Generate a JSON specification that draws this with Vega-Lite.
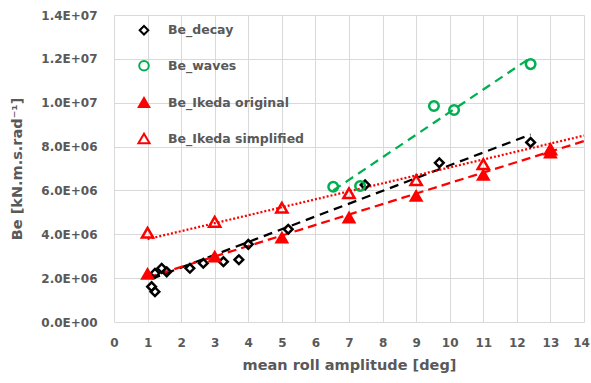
{
  "$schema": "https://vega.github.io/schema/vega-lite/v6.json",
  "width": 470,
  "height": 307,
  "autosize": "none",
  "padding": {"left": 114, "top": 15, "right": 7, "bottom": 61},
  "background": "white",
  "config": {
    "view": {"stroke": null},
    "font": "DejaVu Sans",
    "axis": {
      "labelFont": "DejaVu Sans",
      "labelFontSize": 12,
      "labelFontWeight": "bold",
      "labelColor": "#595959",
      "titleFont": "DejaVu Sans",
      "titleFontSize": 14.5,
      "titleFontWeight": "bold",
      "titleColor": "#595959",
      "gridColor": "#D9D9D9",
      "gridWidth": 1,
      "ticks": false,
      "domain": false
    }
  },
  "datasets": {
    "points": [
      {"series": "Be_decay", "x": 1.12, "y": 1610000},
      {"series": "Be_decay", "x": 1.22, "y": 1380000},
      {"series": "Be_decay", "x": 1.22, "y": 2220000},
      {"series": "Be_decay", "x": 1.42, "y": 2450000},
      {"series": "Be_decay", "x": 1.57, "y": 2290000},
      {"series": "Be_decay", "x": 2.26, "y": 2450000},
      {"series": "Be_decay", "x": 2.66, "y": 2680000},
      {"series": "Be_decay", "x": 3.26, "y": 2750000},
      {"series": "Be_decay", "x": 3.72, "y": 2840000},
      {"series": "Be_decay", "x": 4.0, "y": 3540000},
      {"series": "Be_decay", "x": 5.19, "y": 4230000},
      {"series": "Be_decay", "x": 7.48, "y": 6250000},
      {"series": "Be_decay", "x": 9.69, "y": 7260000},
      {"series": "Be_decay", "x": 12.41, "y": 8190000},
      {"series": "Be_waves", "x": 6.53, "y": 6170000},
      {"series": "Be_waves", "x": 7.33, "y": 6200000},
      {"series": "Be_waves", "x": 9.53, "y": 9850000},
      {"series": "Be_waves", "x": 10.13, "y": 9670000},
      {"series": "Be_waves", "x": 12.41, "y": 11760000},
      {"series": "Be_Ikeda original", "x": 1, "y": 2190000},
      {"series": "Be_Ikeda original", "x": 3, "y": 2980000},
      {"series": "Be_Ikeda original", "x": 5, "y": 3840000},
      {"series": "Be_Ikeda original", "x": 7, "y": 4760000},
      {"series": "Be_Ikeda original", "x": 9, "y": 5750000},
      {"series": "Be_Ikeda original", "x": 11, "y": 6700000},
      {"series": "Be_Ikeda original", "x": 13, "y": 7720000},
      {"series": "Be_Ikeda simplified", "x": 1, "y": 4070000},
      {"series": "Be_Ikeda simplified", "x": 3, "y": 4570000},
      {"series": "Be_Ikeda simplified", "x": 5, "y": 5210000},
      {"series": "Be_Ikeda simplified", "x": 7, "y": 5870000},
      {"series": "Be_Ikeda simplified", "x": 9, "y": 6470000},
      {"series": "Be_Ikeda simplified", "x": 11, "y": 7200000},
      {"series": "Be_Ikeda simplified", "x": 13, "y": 7870000}
    ],
    "trend": [
      {"series": "Be_decay", "x": 1.12, "y": 1970000},
      {"series": "Be_decay", "x": 12.41, "y": 8550000},
      {"series": "Be_waves", "x": 6.53, "y": 6000000},
      {"series": "Be_waves", "x": 12.41, "y": 12050000},
      {"series": "Be_Ikeda original", "x": 1, "y": 2030000},
      {"series": "Be_Ikeda original", "x": 14, "y": 8250000},
      {"series": "Be_Ikeda simplified", "x": 1, "y": 3780000},
      {"series": "Be_Ikeda simplified", "x": 14, "y": 8500000}
    ]
  },
  "encoding": {
    "x": {
      "field": "x",
      "type": "quantitative",
      "scale": {"domain": [0, 14], "nice": false, "zero": false},
      "axis": {
        "values": [0, 1, 2, 3, 4, 5, 6, 7, 8, 9, 10, 11, 12, 13, 14],
        "title": "mean roll amplitude [deg]",
        "labelPadding": 15,
        "titlePadding": 10,
        "labelFlush": false,
        "labelOffset": {"condition": {"test": "datum.value === 14", "value": -3}, "value": 0}
      }
    },
    "y": {
      "field": "y",
      "type": "quantitative",
      "scale": {"domain": [0, 14000000], "nice": false},
      "axis": {
        "values": [0, 2000000, 4000000, 6000000, 8000000, 10000000, 12000000, 14000000],
        "labelExpr": "upper(replace(format(datum.value, '.1e'), 'e+', 'E+0'))",
        "title": "Be [kN.m.s.rad⁻¹]",
        "labelPadding": 17,
        "titlePadding": 16
      }
    }
  },
  "layer": [
    {
      "data": {"name": "trend"},
      "transform": [{"filter": "datum.series === 'Be_decay'"}],
      "mark": {"type": "line", "color": "black", "strokeDash": [9, 6], "strokeWidth": 2.25}
    },
    {
      "data": {"name": "trend"},
      "transform": [{"filter": "datum.series === 'Be_waves'"}],
      "mark": {"type": "line", "color": "#00B050", "strokeDash": [9, 6], "strokeWidth": 2.25}
    },
    {
      "data": {"name": "trend"},
      "transform": [{"filter": "datum.series === 'Be_Ikeda original'"}],
      "mark": {"type": "line", "color": "#FF0000", "strokeDash": [9, 5], "strokeWidth": 2.25}
    },
    {
      "data": {"name": "trend"},
      "transform": [{"filter": "datum.series === 'Be_Ikeda simplified'"}],
      "mark": {"type": "line", "color": "#FF0000", "strokeDash": [2, 2], "strokeWidth": 2.25}
    },
    {
      "data": {"name": "points"},
      "mark": {"type": "point", "filled": false, "strokeWidth": 2.5, "opacity": 1},
      "encoding": {
        "shape": {
          "field": "series",
          "type": "nominal",
          "scale": {
            "domain": ["Be_decay", "Be_waves", "Be_Ikeda original", "Be_Ikeda simplified"],
            "range": ["diamond", "circle", "triangle-up", "triangle-up"]
          },
          "legend": {
            "orient": "none",
            "legendX": 23,
            "legendY": 9,
            "title": null,
            "padding": 0,
            "labelFont": "DejaVu Sans",
            "labelFontSize": 12.5,
            "labelFontWeight": "bold",
            "labelColor": "#595959",
            "labelOffset": 17,
            "rowPadding": 17.5,
            "symbolStrokeWidth": 2
          }
        },
        "stroke": {
          "field": "series",
          "type": "nominal",
          "scale": {
            "domain": ["Be_decay", "Be_waves", "Be_Ikeda original", "Be_Ikeda simplified"],
            "range": ["#000000", "#00B050", "#FF0000", "#FF0000"]
          }
        },
        "fill": {
          "field": "series",
          "type": "nominal",
          "scale": {
            "domain": ["Be_decay", "Be_waves", "Be_Ikeda original", "Be_Ikeda simplified"],
            "range": ["transparent", "transparent", "#FF0000", "transparent"]
          }
        },
        "size": {
          "field": "series",
          "type": "nominal",
          "scale": {
            "domain": ["Be_decay", "Be_waves", "Be_Ikeda original", "Be_Ikeda simplified"],
            "range": [75, 125, 90, 75]
          }
        }
      }
    }
  ]
}
